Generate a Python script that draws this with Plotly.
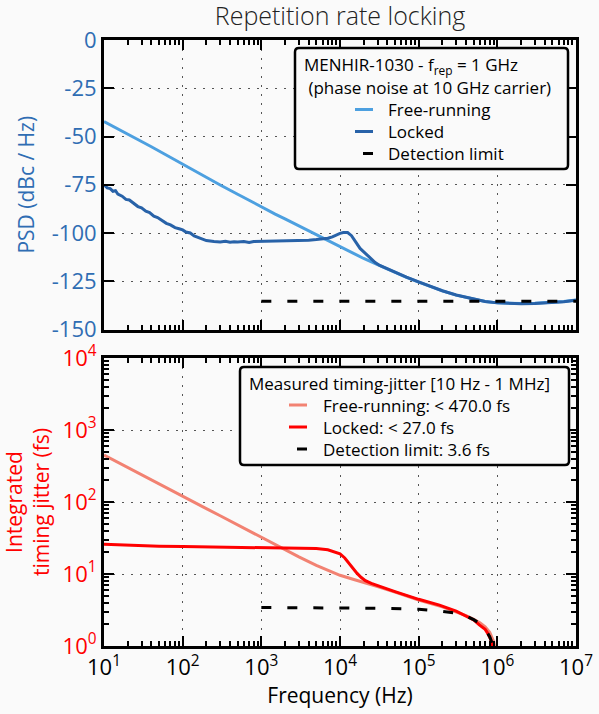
import plotly.graph_objects as go

# ---- top panel: phase noise PSD (dBc/Hz) ----
psd_free_f = [10, 12.5, 15, 20, 30, 40, 50, 70, 100, 150, 200, 300, 500, 700,
              1e3, 1.5e3, 2e3, 3e3, 5e3, 7e3, 1e4, 1.5e4, 2e4, 3e4, 5e4, 7e4,
              1e5, 1.5e5, 2e5, 3e5, 5e5, 7e5, 1e6, 1.5e6, 2e6, 3e6, 5e6, 7e6, 1e7]
psd_free = [-42.2, -44.4, -46.0, -48.8, -52.6, -55.3, -57.5, -60.7, -64.6, -68.5,
            -71.2, -75.1, -79.9, -83.1, -86.6, -90.2, -92.7, -96.3, -100.8, -103.9,
            -107.0, -110.8, -113.2, -116.4, -120.5, -123.0, -125.5, -128.2, -130.0,
            -132.2, -134.4, -135.5, -136.2, -136.5, -136.5, -136.4, -136.0, -135.5, -134.7]

psd_lock_f = [10, 11, 12, 13, 14, 15, 17, 19, 21, 24, 27, 30, 34, 38, 43, 48, 55, 62,
              70, 80, 90, 100, 110, 125, 140, 160, 180, 200, 250, 300, 350, 400, 450,
              500, 600, 700, 800, 1e3, 1.5e3, 2e3, 3e3, 4e3, 5e3, 6e3, 7e3, 8e3, 9e3,
              1e4, 1.1e4, 1.25e4, 1.4e4, 1.6e4, 1.8e4, 2.1e4, 2.5e4, 2.8e4, 3.2e4, 4e4,
              5e4, 7e4, 1e5, 1.5e5, 2e5, 3e5, 5e5, 7e5, 1e6, 1.5e6, 2e6, 3e6, 5e6, 7e6, 1e7]
psd_lock = [-75.0, -76.6, -77.0, -78.4, -78.1, -79.8, -80.9, -82.6, -82.9, -84.8,
            -86.3, -87.0, -88.7, -89.4, -91.3, -92.0, -93.8, -95.0, -95.8, -97.2,
            -97.8, -98.4, -99.5, -100.0, -101.5, -102.3, -103.4, -103.9, -104.4, -104.6,
            -104.3, -104.8, -104.5, -104.7, -104.4, -104.9, -104.4, -104.3, -104.3, -104.2,
            -104.0, -103.7, -103.4, -103.1, -102.7, -102.0, -101.0, -100.2, -99.8, -99.8,
            -101.4, -105.2, -108.0, -110.5, -113.4, -115.3, -116.8, -118.6, -120.3, -122.9,
            -125.3, -128.1, -129.9, -132.1, -134.3, -135.5, -136.2, -136.6, -136.6, -136.5,
            -136.1, -135.6, -134.8]

psd_det_f = [1e3, 1e4, 1e5, 1e6, 1e7]
psd_det = [-135.3, -135.3, -135.3, -135.4, -135.3]

# ---- bottom panel: integrated timing jitter (fs) ----
jit_free_f = [10, 15, 20, 30, 50, 100, 200, 300, 500, 1e3, 1.5e3, 2e3, 3e3, 5e3, 7e3,
              1e4, 1.5e4, 2e4, 3e4, 5e4, 1e5, 2e5, 3e5, 4e5, 5e5, 6e5, 7e5, 8e5, 9e5, 9.5e5]
jit_free = [450, 356, 301, 238, 176, 118, 81, 64.5, 48, 32, 25.7, 21.8, 17.3, 13.2, 11.2,
            9.6, 8.4, 7.7, 6.7, 5.6, 4.35, 3.5, 3.0, 2.65, 2.35, 2.1, 1.85, 1.55, 1.15, 0.85]

jit_lock_f = [10, 20, 50, 100, 300, 1e3, 3e3, 5e3, 7e3, 8.5e3, 1e4, 1.15e4, 1.3e4, 1.5e4,
              1.65e4, 1.85e4, 2.1e4, 2.5e4, 3.1e4, 5e4, 1e5, 1.84e5, 3e5, 4e5, 5e5, 5.9e5,
              7e5, 7.55e5, 8.2e5, 8.7e5, 9.2e5]
jit_lock = [25.8, 25.0, 24.3, 24.0, 23.7, 23.5, 23.1, 22.6, 21.7, 20.4, 19.0, 16.7, 14.1,
            11.8, 10.2, 9.0, 8.1, 7.4, 6.8, 5.7, 4.45, 3.7, 3.05, 2.62, 2.3, 1.96, 1.7,
            1.5, 1.25, 1.0, 0.8]

jit_det_f = [1e3, 3e3, 1e4, 3e4, 1e5, 1.84e5, 3e5, 4e5, 5e5, 6e5, 7.2e5, 8e5, 8.7e5]
jit_det = [3.42, 3.42, 3.4, 3.35, 3.24, 3.06, 2.85, 2.62, 2.32, 2.05, 1.62, 1.35, 1.05]

# ---- ticks ----
freq_ticks = [1e1, 1e2, 1e3, 1e4, 1e5, 1e6, 1e7]
freq_ticktext = ["10<sup>1</sup>", "10<sup>2</sup>", "10<sup>3</sup>", "10<sup>4</sup>",
                 "10<sup>5</sup>", "10<sup>6</sup>", "10<sup>7</sup>"]
jit_ticks = [1, 10, 100, 1000, 10000]
jit_ticktext = ["10<sup>0</sup>", "10<sup>1</sup>", "10<sup>2</sup>", "10<sup>3</sup>",
                "10<sup>4</sup>"]
psd_ticks = [0, -25, -50, -75, -100, -125, -150]
psd_ticktext = ["0", "-25", "-50", "-75", "-100", "-125", "-150"]

top_legend_title = ["MENHIR-1030 - f<sub>rep</sub> = 1 GHz",
                    "\u00a0(phase noise at 10 GHz carrier)"]
bot_legend_title = ["Measured timing-jitter [10 Hz - 1 MHz]"]

BLUE_TXT = "#2f6db3"
LIGHT_BLUE = "#4da0e0"
DARK_BLUE = "#2862a8"
SALMON = "#f28272"
RED = "#ff0000"
BG = "#fafafa"
FONT = "Open Sans"

# page geometry (px)
W, H = 599, 714
ML, MR, MT, MB = 104, 23, 40, 68
PW, PH = W - ML - MR, H - MT - MB


def px(x):
    return (x - ML) / PW


def py(y):
    return 1 - (y - MT) / PH


def rounded_box(x0, y0, x1, y1, r=4):
    return (f"M {px(x0 + r)},{py(y0)} L {px(x1 - r)},{py(y0)} "
            f"Q {px(x1)},{py(y0)} {px(x1)},{py(y0 + r)} L {px(x1)},{py(y1 - r)} "
            f"Q {px(x1)},{py(y1)} {px(x1 - r)},{py(y1)} L {px(x0 + r)},{py(y1)} "
            f"Q {px(x0)},{py(y1)} {px(x0)},{py(y1 - r)} L {px(x0)},{py(y0 + r)} "
            f"Q {px(x0)},{py(y0)} {px(x0 + r)},{py(y0)} Z")


DASH = "10px,16px"
top_series = [
    ("Free-running", psd_free_f, psd_free, dict(color=LIGHT_BLUE, width=3)),
    ("Locked", psd_lock_f, psd_lock, dict(color=DARK_BLUE, width=3)),
    ("Detection limit", psd_det_f, psd_det, dict(color="black", width=3, dash=DASH)),
]
bot_series = [
    ("Free-running: < 470.0 fs", jit_free_f, jit_free, dict(color=SALMON, width=3)),
    ("Locked: < 27.0 fs", jit_lock_f, jit_lock, dict(color=RED, width=3)),
    ("Detection limit: 3.6 fs", jit_det_f, jit_det, dict(color="black", width=3, dash=DASH)),
]

fig = go.Figure()
for name, f, v, line in top_series:
    fig.add_trace(go.Scatter(x=f, y=v, name=name, mode="lines", line=line,
                             xaxis="x2", yaxis="y2", showlegend=False))
for name, f, v, line in bot_series:
    fig.add_trace(go.Scatter(x=f, y=v, name=name, mode="lines", line=line,
                             showlegend=False))

# hand-drawn legends (matplotlib style boxes)
shapes = [
    dict(type="path", xref="paper", yref="paper", path=rounded_box(295, 48, 568, 169),
         fillcolor=BG, line=dict(color="black", width=2.5), layer="above"),
    dict(type="path", xref="paper", yref="paper", path=rounded_box(240, 367, 569, 465),
         fillcolor=BG, line=dict(color="black", width=2.5), layer="above"),
]
annotations = []


def add_legend(title_lines, series, x_title, y_first, x_line, x_text, row_h=22):
    y = y_first
    for t in title_lines:
        annotations.append(dict(text=t, xref="paper", yref="paper", x=px(x_title), y=py(y),
                                xanchor="left", yanchor="middle", showarrow=False,
                                font=dict(size=17, color="black")))
        y += row_h
    for name, _, _, line in series:
        if line.get("dash"):
            x0, x1 = x_line + 8, x_line + 18
        else:
            x0, x1 = x_line, x_line + 18
        shapes.append(dict(type="line", xref="paper", yref="paper", x0=px(x0), x1=px(x1),
                           y0=py(y), y1=py(y), layer="above",
                           line=dict(color=line["color"], width=3)))
        annotations.append(dict(text=name, xref="paper", yref="paper", x=px(x_text), y=py(y),
                                xanchor="left", yanchor="middle", showarrow=False,
                                font=dict(size=17, color="black")))
        y += row_h


add_legend(top_legend_title, top_series, 302, 65.5, 355, 386)
add_legend(bot_legend_title, bot_series, 247, 383, 289, 321)

frame = dict(showline=True, linecolor="black", linewidth=3, mirror="allticks",
             ticks="inside", ticklen=10, tickwidth=2, tickcolor="black",
             showgrid=True, gridcolor="#555", gridwidth=1, griddash="1.5px,7.5px",
             zeroline=False, automargin=False)
log_minor = dict(ticks="inside", ticklen=5, tickwidth=1.5, tickcolor="black",
                 dtick="D1", showgrid=False)

top_dom = [py(329.5), 1]
bot_dom = [0, py(358)]

fig.update_layout(
    width=W, height=H,
    margin=dict(l=ML, r=MR, t=MT, b=MB),
    paper_bgcolor=BG, plot_bgcolor=BG,
    font=dict(family=FONT, size=20, color="black"),
    title=dict(text="Repetition rate locking", x=0.5, xref="paper", xanchor="center",
               y=1 - 16 / H, yanchor="middle", automargin=False,
               font=dict(size=25, color="#222", weight=300)),
    xaxis=dict(frame, type="log", range=[1, 7], tickvals=freq_ticks, ticktext=freq_ticktext,
               domain=[0, 1], anchor="y", minor=log_minor,
               tickfont=dict(size=22, color="black"),
               title=dict(text="Frequency (Hz)", font=dict(size=21), standoff=2)),
    yaxis=dict(frame, type="log", range=[0, 4], tickvals=jit_ticks, ticktext=jit_ticktext,
               domain=bot_dom, anchor="x", minor=log_minor,
               tickfont=dict(size=22, color=RED),
               title=dict(text="Integrated<br>timing jitter (fs)",
                          font=dict(size=21, color=RED), standoff=8)),
    xaxis2=dict(frame, type="log", range=[1, 7], tickvals=freq_ticks, domain=[0, 1],
                anchor="y2", matches="x", showticklabels=False, minor=log_minor),
    yaxis2=dict(frame, range=[-150, 0], tickvals=psd_ticks, ticktext=psd_ticktext,
                domain=top_dom, anchor="x2",
                tickfont=dict(size=22, color=BLUE_TXT),
                title=dict(text="PSD (dBc / Hz)", font=dict(size=21, color=BLUE_TXT),
                           standoff=12)),
    shapes=shapes,
    annotations=annotations,
)

# drop the page's default 8px body margin so the figure fills the window
fig.write_html("out.html", config={"displayModeBar": False},
               post_script="document.body.style.margin = '0';")
